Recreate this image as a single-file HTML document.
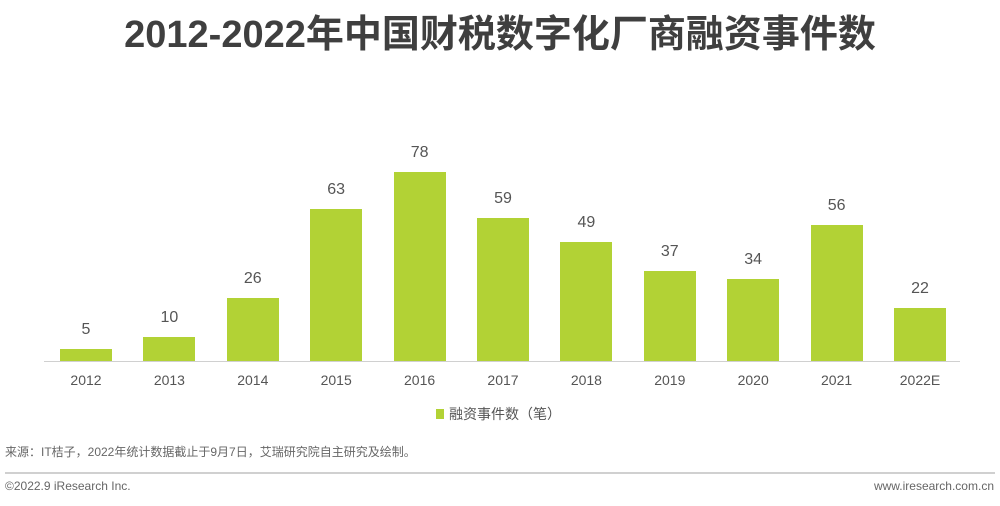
<!DOCTYPE html>
<html><head><meta charset="utf-8"><style>
body{margin:0;width:1000px;height:506px;background:#fff;position:relative;overflow:hidden;font-family:"Liberation Sans","Noto Sans CJK SC",sans-serif}
.t{position:absolute;left:0;width:1000px;top:11px;text-align:center;font-size:38px;font-weight:bold;color:#3f3f3f;line-height:48px}
.b{position:absolute;width:52px;background:#b2d235}
.v{position:absolute;width:80px;text-align:center;font-size:16px;color:#555}
.x{position:absolute;width:80px;text-align:center;font-size:14px;color:#555;top:372px}
</style></head><body>
<div class="t">2012-2022年中国财税数字化厂商融资事件数</div>
<div style="position:absolute;left:44px;top:361px;width:916px;height:1px;background:#d0d0d0"></div>
<div id="c"></div>
<div style="position:absolute;left:436px;top:409px;width:8px;height:10px;background:#b2d235"></div>
<div style="position:absolute;left:449px;top:404px;font-size:14px;color:#555">融资事件数（笔）</div>
<div style="position:absolute;left:5px;top:443px;font-size:12px;color:#666">来源：IT桔子，2022年统计数据截止于9月7日，艾瑞研究院自主研究及绘制。</div>
<div style="position:absolute;left:5px;top:472px;width:990px;height:2px;background:#d0d0d0"></div>
<div style="position:absolute;left:5px;top:479px;font-size:12px;color:#666">©2022.9 iResearch Inc.</div>
<div style="position:absolute;right:6px;top:479px;font-size:12px;color:#666">www.iresearch.com.cn</div>
<script>
var d=[5,10,26,63,78,59,49,37,34,56,22],l=["2012","2013","2014","2015","2016","2017","2018","2019","2020","2021","2022E"],h="";
for(var i=0;i<11;i++){var x=60+i*83.4,ht=d[i]*2.42,tp=361-ht;
h+='<div class="b" style="left:'+x+'px;top:'+tp+'px;height:'+ht+'px"></div>';
h+='<div class="v" style="left:'+(x-14)+'px;top:'+(tp-28)+'px">'+d[i]+'</div>';
h+='<div class="x" style="left:'+(x-14)+'px">'+l[i]+'</div>';}
document.getElementById("c").innerHTML=h;
</script>
</body></html>
